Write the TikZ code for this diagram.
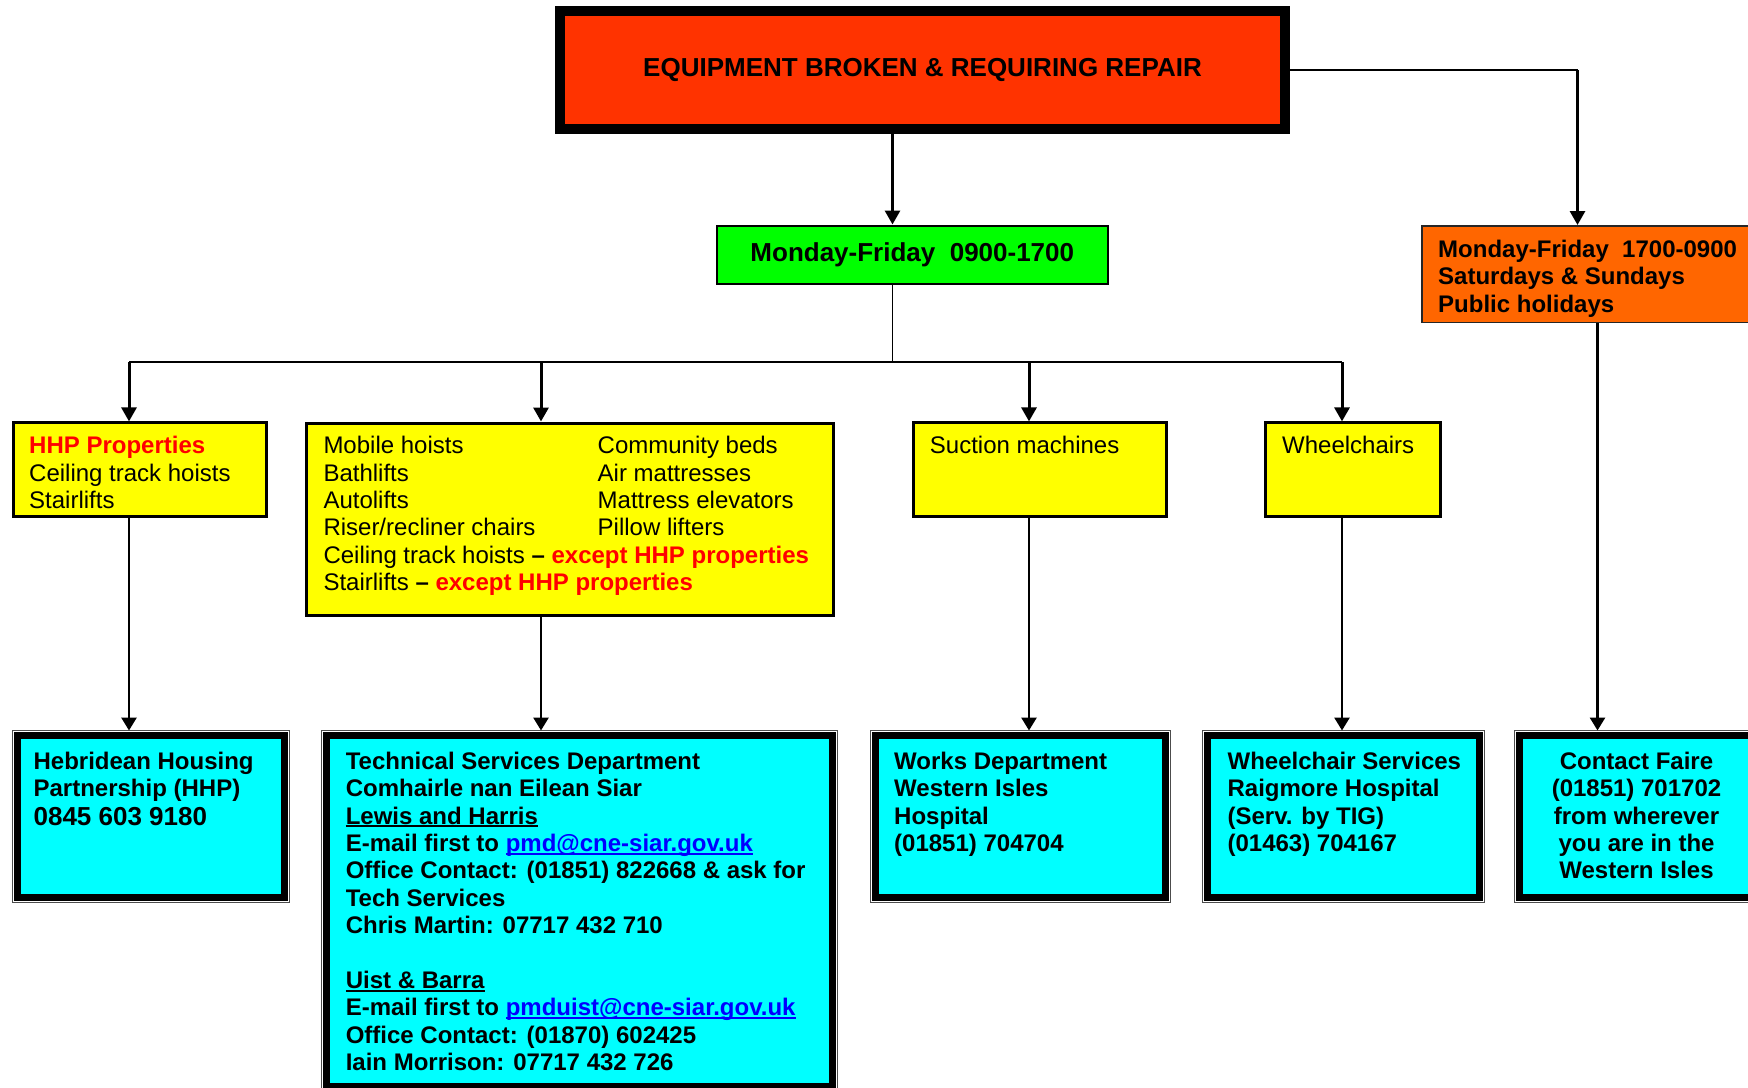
\documentclass[tikz,border=0pt]{standalone}
\usepackage{fontspec}
\setmainfont{Liberation Sans}
\usetikzlibrary{arrows.meta}
\definecolor{titlered}{HTML}{FF3300}
\definecolor{dayorange}{HTML}{FF6600}
\definecolor{daygreen}{HTML}{00FF00}
\definecolor{itemyellow}{HTML}{FFFF00}
\definecolor{contactcyan}{HTML}{00FFFF}
\definecolor{alertred}{HTML}{FF0000}
\definecolor{linkblue}{HTML}{0000FF}
\newcommand\myul[1]{\setbox0=\hbox{#1}\rlap{\rule[-3.2pt]{\wd0}{1.8pt}}\box0}
\begin{document}
\begin{tikzpicture}[x=1pt,y=-1pt,
  titlebox/.style={rectangle, draw=black, fill=titlered, line width=10pt, inner sep=0pt,
    minimum width=725pt, minimum height=118pt, font=\bfseries\fontsize{26}{30}\selectfont},
  greenbox/.style={rectangle, draw=black, fill=daygreen, line width=2pt, inner sep=0pt,
    minimum width=391pt, minimum height=58pt, font=\bfseries\fontsize{26}{30}\selectfont},
  orangebox/.style={rectangle, draw=black!85, fill=dayorange, line width=1.5pt, inner sep=0pt},
  ybox/.style={rectangle, draw=black, fill=itemyellow, line width=3pt, inner sep=0pt},
  cbox/.style={rectangle, draw=black, fill=contactcyan, line width=7pt, inner sep=0pt, outer sep=5pt},
  cline/.style={draw=black!70, line width=1pt},
  tx/.style={anchor=north west, inner sep=0pt, align=left, font=\fontsize{24}{27.4}\selectfont},
  btx/.style={tx, font=\bfseries\fontsize{24}{27.4}\selectfont},
  arrtop/.style={-{Triangle[length=14pt,width=15pt]}, line width=3pt},
  arrlow/.style={-{Triangle[length=13pt,width=15pt]}, line width=2.8pt},
  thinconn/.style={line width=1.5pt},
  busline/.style={line width=1.8pt}]
\useasboundingbox (0,0) rectangle (1748,1087);
\clip (0,0) rectangle (1748,1087);

% ---------- boxes ----------
\node[titlebox] (title) at (922.5,70) {EQUIPMENT BROKEN \& REQUIRING REPAIR};
\node[greenbox] (green) at (912.3,254.5) {Monday-Friday~~0900-1700};
\node[orangebox, minimum width=337.5pt, minimum height=96.5pt] (orange) at (1590.5,274) {};

\node[ybox, minimum width=253pt, minimum height=94pt] (y1) at (140.4,469.9) {};
\node[ybox, minimum width=527.4pt, minimum height=192pt] (y2) at (570.2,519) {};
\node[ybox, minimum width=253pt, minimum height=94pt] (y3) at (1039.5,469.9) {};
\node[ybox, minimum width=175pt, minimum height=94pt] (y4) at (1352.5,469.9) {};

\node[cbox, minimum width=267pt, minimum height=162pt] (b1) at (151,816.5) {};
\node[cbox, minimum width=506pt, minimum height=351pt] (b2) at (579.5,911) {};
\node[cbox, minimum width=290pt, minimum height=162pt] (b3) at (1020.5,816.5) {};
\node[cbox, minimum width=272pt, minimum height=162pt] (b4) at (1343.5,816.5) {};
\node[cbox, minimum width=235pt, minimum height=162pt] (b5) at (1637,816.5) {};
\foreach \b in {b1,b2,b3,b4,b5}
  \draw[cline] (\b.north west) rectangle (\b.south east);

% ---------- texts ----------
\node[btx] (torange) at (1438,239.9) {Monday-Friday~~1700-0900\\Saturdays \& Sundays\\Public holidays};

\node[tx] (ty1) at (29,436.1) {\textcolor{alertred}{\bfseries HHP Properties}\\Ceiling track hoists\\Stairlifts};
\node[tx] (ty2a) at (323.3,436.1) {Mobile hoists\\Bathlifts\\Autolifts\\Riser/recliner chairs\\
  Ceiling track hoists {\bfseries –} \textcolor{alertred}{\bfseries except HHP properties}\\
  Stairlifts {\bfseries –} \textcolor{alertred}{\bfseries except HHP properties}};
\node[tx] (ty2b) at (597.5,436.1) {Community beds\\Air mattresses\\Mattress elevators\\Pillow lifters};
\node[tx] (ty3) at (929.7,436.1) {Suction machines};
\node[tx] (ty4) at (1282,436.1) {Wheelchairs};

\node[btx] (tb1) at (33.4,751.6) {Hebridean Housing\\Partnership (HHP)\\[1pt]{\fontsize{26}{28}\selectfont 0845 603 9180}};
\node[btx] (tb2) at (345.6,751.6) {Technical Services Department\\Comhairle nan Eilean Siar\\
  \myul{Lewis and Harris}\\
  E-mail first to \textcolor{linkblue}{\myul{pmd@cne-siar.gov.uk}}\\
  Office Contact: (01851) 822668 \& ask for\\Tech Services\\Chris Martin: 07717 432 710\\[27.4pt]
  \myul{Uist \& Barra}\\
  E-mail first to \textcolor{linkblue}{\myul{pmduist@cne-siar.gov.uk}}\\
  Office Contact: (01870) 602425\\Iain Morrison: 07717 432 726};
\node[btx] (tb3) at (894,751.6) {Works Department\\Western Isles\\Hospital\\(01851) 704704};
\node[btx] (tb4) at (1227.4,751.6) {Wheelchair Services\\Raigmore Hospital\\(Serv. by TIG)\\(01463) 704167};
\node[btx, anchor=north, align=center] (tb5) at (1636.5,751.6) {Contact Faire\\(01851) 701702\\from wherever\\you are in the\\Western Isles};

% ---------- connectors ----------
\coordinate (xa) at (892.5,0);
\coordinate (xo) at (1577.5,0);
\coordinate (x1) at (129,0);
\coordinate (x2) at (541,0);
\coordinate (x3) at (1029,0);
\coordinate (x4) at (1342,0);
\coordinate (x5) at (1597.5,0);
\coordinate (bus) at (0,362);

\draw[arrtop] (title.south -| xa) -- (green.north -| xa);
\draw[thinconn] (title.east) -- (title.east -| xo);
\draw[arrtop] (title.east -| xo) -- (orange.north -| xo);

\draw[thinconn] (green.south -| xa) -- (xa |- bus);
\draw[busline] (x1 |- bus) -- (x4 |- bus);
\foreach \x/\y in {x1/y1, x2/y2, x3/y3, x4/y4}
  \draw[arrtop] (\x |- bus) -- (\y.north -| \x);

\draw[arrlow] (y1.south -| x1) -- (b1.north -| x1);
\draw[arrlow] (y2.south -| x2) -- (b2.north -| x2);
\draw[arrlow] (y3.south -| x3) -- (b3.north -| x3);
\draw[arrlow] (y4.south -| x4) -- (b4.north -| x4);
\draw[arrlow] (orange.south -| x5) -- (b5.north -| x5);
\end{tikzpicture}
\end{document}
